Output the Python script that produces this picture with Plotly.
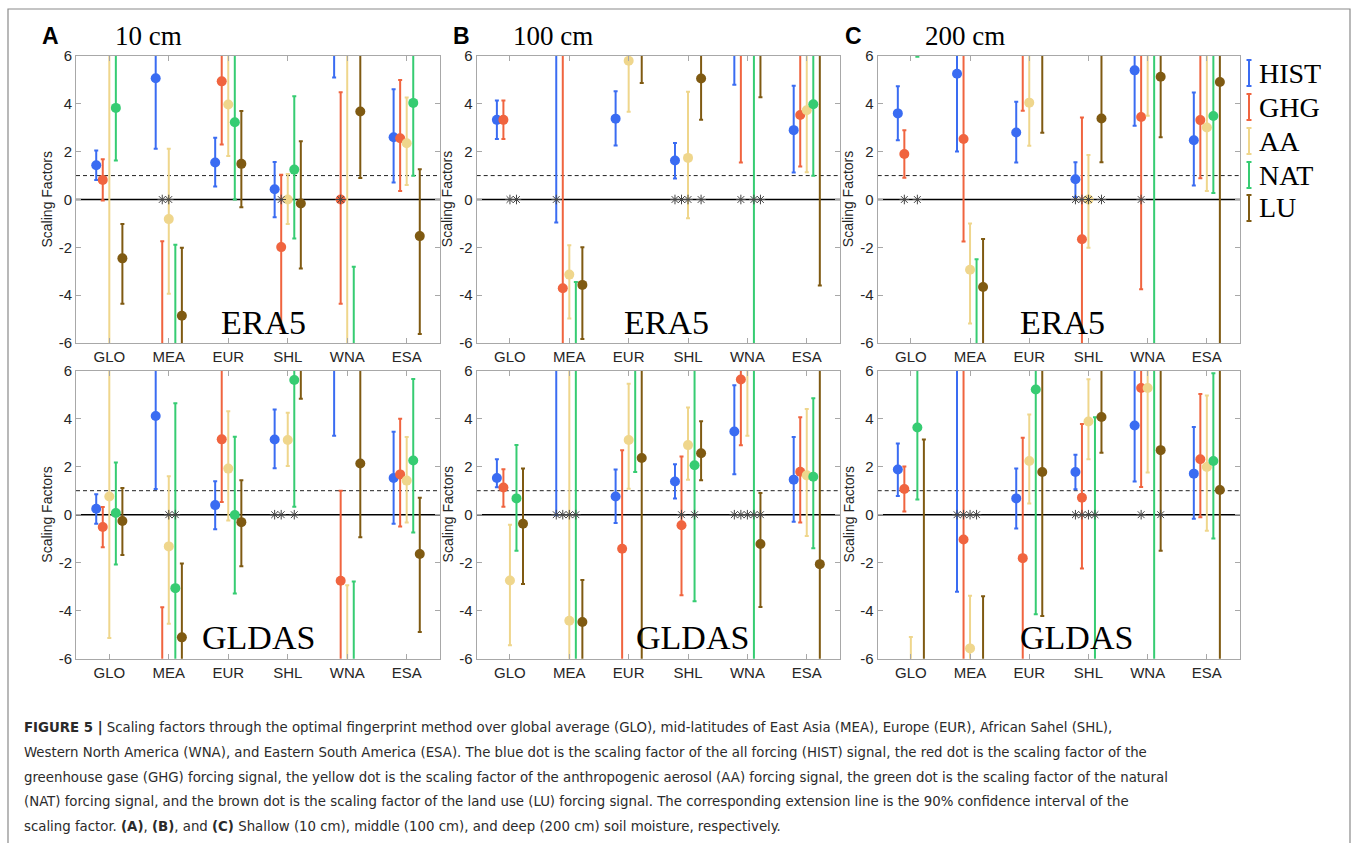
import plotly.graph_objects as go

REGIONS = ["GLO", "MEA", "EUR", "SHL", "WNA", "ESA"]
SERIES = ["HIST", "GHG", "AA", "NAT", "LU"]
COLORS = ["#3a6cf2", "#f0643f", "#efd68c", "#36cc72", "#7f5a12"]

# rows: HIST, GHG, AA, NAT, LU ; columns: GLO, MEA, EUR, SHL, WNA, ESA
# (values beyond +/-6 are off the visible scale; None = not shown)
A_ERA5_VAL = [[1.43, 5.07, 1.55, 0.43, 7, 2.60],
              [0.82, -7, 4.94, -1.99, 0.0, 2.56],
              [7, -0.82, 3.97, 0.0, 7, 2.35],
              [3.83, -7, 3.23, 1.25, -7, 4.04],
              [-2.46, -4.86, 1.49, -0.17, 3.68, -1.53]]
A_ERA5_HI = [[2.05, 9, 2.58, 1.57, 9, 4.61],
             [1.68, -1.75, 9, 1.03, 4.48, 5.0],
             [9, 2.12, 9, 1.07, 9, 4.27],
             [9, -1.89, 9, 4.32, -2.81, 9],
             [-1.02, -2.02, 3.70, 2.44, 9, 1.27]]
A_ERA5_LO = [[0.82, 2.12, 0.54, -0.74, 5.10, 0.71],
             [-0.04, -9, 2.30, -5.4, -4.36, 0.36],
             [-9, -3.94, 1.82, -1.02, -9, 0.61],
             [1.63, -9, 0.0, -1.63, -9, 0.99],
             [-4.36, -9, -0.32, -2.88, 0.9, -5.62]]
A_ERA5_STARS = [("MEA", "GHG"), ("MEA", "AA"), ("SHL", "GHG"), ("WNA", "GHG")]

A_GLDAS_VAL = [[0.25, 4.11, 0.40, 3.13, 7, 1.53],
               [-0.51, -7, 3.14, None, -2.75, 1.68],
               [0.76, -1.32, 1.92, 3.11, -7, 1.42],
               [0.07, -3.06, -0.01, 5.61, -7, 2.26],
               [-0.26, -5.11, -0.31, 7, 2.13, -1.64]]
A_GLDAS_HI = [[0.85, 9, 1.39, 4.38, 9, 3.46],
              [0.32, -3.86, 9, None, 1.0, 4.0],
              [9, 1.6, 4.31, 4.25, -2.94, 3.24],
              [2.18, 4.64, 3.25, 9, -2.78, 5.65],
              [1.11, -2.03, 1.44, 9, 9, 0.71]]
A_GLDAS_LO = [[-0.38, 1.07, -0.61, 1.94, 3.29, -0.38],
              [-1.36, -9, 0.53, None, -9, -0.49],
              [-5.14, -4.54, -0.24, 2.03, -9, -0.32],
              [-2.08, -9, -3.28, 0.33, -9, -0.74],
              [-1.68, -9, -2.15, 4.83, -0.94, -4.89]]
A_GLDAS_STARS = [("MEA", "AA"), ("MEA", "NAT"), ("SHL", "HIST"), ("SHL", "GHG"), ("SHL", "NAT")]

B_ERA5_VAL = [[3.33, 7, 3.38, 1.63, 7, 2.90],
              [3.33, -3.71, None, None, 7, 3.53],
              [None, -3.14, 5.80, 1.74, None, 3.73],
              [None, -7, None, None, 7, 3.98],
              [None, -3.57, 7, 5.06, 7, 7]]
B_ERA5_HI = [[4.14, 9, 4.53, 2.36, 9, 4.76],
             [4.14, 9, None, None, 9, 9],
             [None, -1.91, 9, 4.51, None, 9],
             [None, -3.45, None, None, 9, 9],
             [None, -2.0, 9, 9, 9, 9]]
B_ERA5_LO = [[2.53, -0.96, 2.26, 0.88, 4.8, 1.13],
             [2.53, -9, None, None, 1.55, 1.38],
             [None, -4.98, 3.67, -0.78, None, 1.14],
             [None, -9, None, None, -9, 0.99],
             [None, -5.83, 4.87, 3.33, 4.28, -3.60]]
B_ERA5_STARS = [("GLO", "AA"), ("GLO", "NAT"), ("MEA", "HIST"), ("SHL", "HIST"), ("SHL", "GHG"),
                ("SHL", "AA"), ("SHL", "LU"), ("WNA", "GHG"), ("WNA", "NAT"), ("WNA", "LU")]

B_GLDAS_VAL = [[1.53, 7, 0.76, 1.38, 3.47, 1.46],
               [1.13, None, -1.42, -0.44, 5.63, 1.79],
               [-2.74, -4.42, 3.11, 2.90, 7, 1.64],
               [0.68, 7, 7, 2.06, 7, 1.58],
               [-0.38, -4.47, 2.36, 2.56, -1.22, -2.06]]
B_GLDAS_HI = [[2.31, 9, 1.88, 2.10, 5.39, 3.24],
              [1.89, None, 2.69, 2.42, 9, 4.06],
              [-0.42, 9, 5.46, 4.47, 9, 4.40],
              [2.90, 9, 9, 9, 9, 4.85],
              [1.92, -2.72, 9, 3.89, 0.90, 9]]
B_GLDAS_LO = [[1.14, -0.02, -0.35, 0.67, 1.69, -0.29],
              [0.33, None, -9, -3.36, 2.89, -0.33],
              [-5.44, -9, 1.08, 1.46, 3.29, -0.89],
              [-1.5, -9, 1.78, -3.61, -9, -1.40],
              [-2.89, -9, -9, 1.44, -3.85, -9]]
B_GLDAS_STARS = [("MEA", "HIST"), ("MEA", "GHG"), ("MEA", "AA"), ("MEA", "NAT"),
                 ("SHL", "GHG"), ("SHL", "NAT"),
                 ("WNA", "HIST"), ("WNA", "GHG"), ("WNA", "AA"), ("WNA", "NAT"), ("WNA", "LU")]

C_ERA5_VAL = [[3.60, 5.26, 2.80, 0.85, 5.40, 2.48],
              [1.90, 2.53, 7, -1.66, 3.45, 3.32],
              [None, -2.94, 4.05, 0.0, 7, 3.01],
              [7, -7, None, None, 7, 3.49],
              [None, -3.66, 7, 3.39, 5.13, 4.91]]
C_ERA5_HI = [[4.73, 9, 4.09, 1.56, 9, 4.47],
             [2.90, 9, 9, 3.43, 9, 9],
             [None, -1.0, 9, 1.86, 9, 9],
             [9, -2.50, None, None, 9, 9],
             [None, -1.65, 9, 9, 9, 9]]
C_ERA5_LO = [[2.48, 2.01, 1.55, 0.10, 3.08, 0.59],
             [0.91, -1.76, 3.71, -9, -3.75, 0.89],
             [None, -5.18, 2.25, -2.02, 3.50, 0.36],
             [5.97, -9, None, None, -9, 0.27],
             [None, -9, 2.79, 1.56, 2.60, -9]]
C_ERA5_STARS = [("GLO", "GHG"), ("GLO", "NAT"), ("SHL", "HIST"), ("SHL", "GHG"),
                ("SHL", "AA"), ("SHL", "LU"), ("WNA", "GHG")]

C_GLDAS_VAL = [[1.88, 7, 0.68, 1.78, 3.72, 1.71],
               [1.07, -1.03, -1.81, 0.71, 5.28, 2.31],
               [-7, -5.57, 2.24, 3.88, 5.28, 1.99],
               [3.63, None, 5.22, -7, 7, 2.24],
               [-7, -7, 1.78, 4.07, 2.69, 1.03]]
C_GLDAS_HI = [[2.97, 9, 1.92, 2.50, 9, 3.65],
              [2.01, 9, 3.21, 3.78, 9, 5.03],
              [-5.10, -3.38, 4.17, 5.64, 9, 4.97],
              [9, None, 9, 4.06, 9, 5.89],
              [3.13, -3.40, 9, 9, 9, 9]]
C_GLDAS_LO = [[0.78, -3.21, -0.57, 1.06, 1.38, -0.17],
              [0.13, -9, -9, -2.24, 1.15, -0.11],
              [-9, -9, 0.47, 2.31, 1.76, -0.67],
              [0.63, None, -4.15, -9, -9, -0.99],
              [-9, -9, -4.22, 2.58, -1.5, -9]]
C_GLDAS_STARS = [("MEA", "HIST"), ("MEA", "GHG"), ("MEA", "AA"), ("MEA", "NAT"),
                 ("SHL", "HIST"), ("SHL", "GHG"), ("SHL", "AA"), ("SHL", "NAT"),
                 ("WNA", "GHG"), ("WNA", "LU")]

PANEL_LETTERS = ["A", "B", "C"]
DEPTHS = ["10 cm", "100 cm", "200 cm"]
DATASETS = ["ERA5", "GLDAS"]
Y_TICKS = [-6, -4, -2, 0, 2, 4, 6]

CAPTION = [
    "<b>FIGURE 5 |</b> Scaling factors through the optimal fingerprint method over global average (GLO), mid-latitudes of East Asia (MEA), Europe (EUR), African Sahel (SHL),",
    "Western North America (WNA), and Eastern South America (ESA). The blue dot is the scaling factor of the all forcing (HIST) signal, the red dot is the scaling factor of the",
    "greenhouse gase (GHG) forcing signal, the yellow dot is the scaling factor of the anthropogenic aerosol (AA) forcing signal, the green dot is the scaling factor of the natural",
    "(NAT) forcing signal, and the brown dot is the scaling factor of the land use (LU) forcing signal. The corresponding extension line is the 90% confidence interval of the",
    "scaling factor. <b>(A)</b>, <b>(B)</b>, and <b>(C)</b> Shallow (10 cm), middle (100 cm), and deep (200 cm) soil moisture, respectively.",
]

W, H = 1354, 843
def px(x):
    return x / W
def py(y):
    return 1 - y / H

OFF = 0.11
COL_X = [(76, 440), (476.7, 840), (877.7, 1240)]
ROW_Y = [(56, 343), (370.7, 658.7)]
LABEL_POS = [(3.6, -5.15), (3.63, -5.15), (3.57, -5.15), (3.5, -5.1), (4.07, -5.1), (3.8, -5.1)]

panels = [
    (A_ERA5_VAL, A_ERA5_HI, A_ERA5_LO, A_ERA5_STARS, 0, 0),
    (B_ERA5_VAL, B_ERA5_HI, B_ERA5_LO, B_ERA5_STARS, 0, 1),
    (C_ERA5_VAL, C_ERA5_HI, C_ERA5_LO, C_ERA5_STARS, 0, 2),
    (A_GLDAS_VAL, A_GLDAS_HI, A_GLDAS_LO, A_GLDAS_STARS, 1, 0),
    (B_GLDAS_VAL, B_GLDAS_HI, B_GLDAS_LO, B_GLDAS_STARS, 1, 1),
    (C_GLDAS_VAL, C_GLDAS_HI, C_GLDAS_LO, C_GLDAS_STARS, 1, 2),
]

fig = go.Figure()
layout = {}
shapes = []
annotations = []
AXCOL = "#a8a8a8"
TXT = "#262626"

for k, (val, hi, lo, stars, r, c) in enumerate(panels):
    idx = k + 1
    xa = "x" if idx == 1 else f"x{idx}"
    ya = "y" if idx == 1 else f"y{idx}"
    for s in range(len(SERIES)):
        xs = [i + 1 + (s - 2) * OFF for i in range(len(REGIONS))]
        plus = [(h - v) if v is not None else 0 for v, h in zip(val[s], hi[s])]
        minus = [(v - l) if v is not None else 0 for v, l in zip(val[s], lo[s])]
        fig.add_trace(go.Scatter(
            x=xs, y=val[s], mode="markers", xaxis=xa, yaxis=ya, showlegend=False,
            marker=dict(color=COLORS[s], size=10, line=dict(width=0)),
            error_y=dict(type="data", symmetric=False, array=plus, arrayminus=minus,
                         color=COLORS[s], thickness=2, width=2),
            cliponaxis=True, hoverinfo="skip"))
    sx = [REGIONS.index(rg) + 1 + (SERIES.index(se) - 2) * OFF for rg, se in stars]
    fig.add_trace(go.Scatter(
        x=sx, y=[0] * len(sx), mode="markers", xaxis=xa, yaxis=ya, showlegend=False,
        marker=dict(symbol="asterisk-open", size=8, color="#444444",
                    line=dict(color="#444444", width=1)),
        hoverinfo="skip"))

    x0, x1 = COL_X[c]
    y0, y1 = ROW_Y[r]
    axname_x = "xaxis" if idx == 1 else f"xaxis{idx}"
    axname_y = "yaxis" if idx == 1 else f"yaxis{idx}"
    layout[axname_x] = dict(
        domain=[px(x0), px(x1)], anchor=ya, range=[0.44, 6.56],
        tickmode="array", tickvals=list(range(1, 7)), ticktext=REGIONS,
        ticks="inside", ticklen=5, tickcolor=AXCOL, showline=True, linecolor=AXCOL,
        linewidth=1, mirror="ticks", showgrid=False, zeroline=False, automargin=False,
        tickfont=dict(family="Liberation Sans, Arial", size=15, color=TXT))
    layout[axname_y] = dict(
        domain=[py(y1), py(y0)], anchor=xa, range=[-6, 6],
        tickmode="array", tickvals=Y_TICKS, ticktext=[str(t) for t in Y_TICKS],
        ticks="inside", ticklen=5, tickcolor=AXCOL, showline=True, linecolor=AXCOL,
        linewidth=1, mirror="ticks", showgrid=False, zeroline=False, automargin=False,
        tickfont=dict(family="Liberation Sans, Arial", size=15, color=TXT))

    shapes.append(dict(type="line", xref=f"{xa} domain", yref=ya, x0=0, x1=1, y0=0, y1=0,
                       line=dict(color="black", width=1.5), layer="below"))
    shapes.append(dict(type="line", xref=f"{xa} domain", yref=ya, x0=0, x1=1, y0=1, y1=1,
                       line=dict(color="#222222", width=1, dash="4px,3px"), layer="below"))

    lx, ly = LABEL_POS[k]
    annotations.append(dict(x=lx, y=ly, xref=xa, yref=ya, text=DATASETS[r], showarrow=False,
                            font=dict(family="Liberation Serif, Times New Roman", size=34, color="black")))
    annotations.append(dict(x=px(x0 - 29), y=(py(y0) + py(y1)) / 2, xref="paper", yref="paper",
                            xanchor="center", yanchor="middle",
                            text="Scaling Factors", textangle=-90, showarrow=False,
                            font=dict(family="Liberation Sans, Arial", size=14, color=TXT)))

# panel letters and depths
LETTER_X = [40, 451, 843]
DEPTH_X = [113, 511, 923]
for c in range(3):
    annotations.append(dict(x=px(LETTER_X[c]), y=py(36), xref="paper", yref="paper",
                            xanchor="left", yanchor="middle", text=f"<b>{PANEL_LETTERS[c]}</b>",
                            showarrow=False,
                            font=dict(family="Liberation Sans, Arial", size=23, color="black")))
    annotations.append(dict(x=px(DEPTH_X[c]), y=py(36), xref="paper", yref="paper",
                            xanchor="left", yanchor="middle", text=DEPTHS[c], showarrow=False,
                            font=dict(family="Liberation Serif, Times New Roman", size=27, color="black")))

# legend (error-bar glyphs)
LEG_Y = [73, 107, 141, 175, 208]
for s, name in enumerate(SERIES):
    cy = LEG_Y[s]
    shapes.append(dict(type="line", xref="paper", yref="paper", x0=px(1249), x1=px(1249),
                       y0=py(cy - 13), y1=py(cy + 13), line=dict(color=COLORS[s], width=2)))
    for yy in (cy - 13, cy + 13):
        shapes.append(dict(type="line", xref="paper", yref="paper", x0=px(1246.5), x1=px(1251.5),
                           y0=py(yy), y1=py(yy), line=dict(color=COLORS[s], width=2)))
    annotations.append(dict(x=px(1257), y=py(cy), xref="paper", yref="paper", xanchor="left",
                            yanchor="middle", text=name, showarrow=False,
                            font=dict(family="Liberation Serif, Times New Roman", size=28, color="black")))

# caption
CAP_Y = [727, 751.5, 776, 800.5, 825]
for line, yy in zip(CAPTION, CAP_Y):
    annotations.append(dict(x=px(22), y=py(yy), xref="paper", yref="paper", xanchor="left",
                            yanchor="middle", text=line, showarrow=False,
                            font=dict(family="DejaVu Sans Condensed, Liberation Sans",
                                      size=14.8, color="#2b2b2b")))

# outer frame
shapes.append(dict(type="rect", xref="paper", yref="paper", x0=px(8), x1=px(1350), y0=py(9), y1=py(860),
                   line=dict(color="#8a8a8a", width=1.2), fillcolor="rgba(0,0,0,0)", layer="below"))

fig.update_layout(width=W, height=H, margin=dict(l=0, r=0, t=0, b=0, pad=0, autoexpand=False),
                  paper_bgcolor="white", plot_bgcolor="white",
                  shapes=shapes, annotations=annotations, showlegend=False, **layout)

fig.write_html("out.html")
